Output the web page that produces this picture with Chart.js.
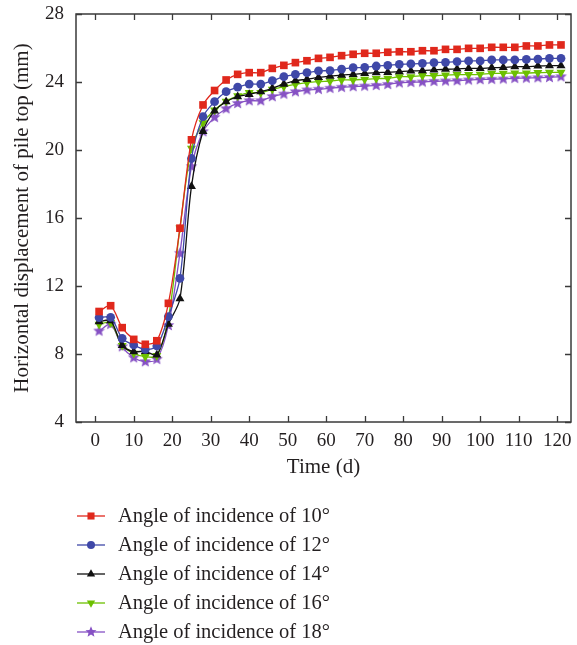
<!DOCTYPE html>
<html>
<head>
<meta charset="utf-8">
<script src="https://cdn.jsdelivr.net/npm/chart.js@4.4.1/dist/chart.umd.min.js"></script>
<style>
  html, body { margin: 0; padding: 0; background: #fff; }
  #wrap { width: 577px; height: 645px; }
</style>
</head>
<body>
<div id="wrap"><canvas id="myChart" width="577" height="645"></canvas></div>
<script>
// time (d)
const days = [1,4,7,10,13,16,19,22,25,28,31,34,37,40,43,46,49,52,55,58,61,64,67,70,73,76,79,82,85,88,91,94,97,100,103,106,109,112,115,118,121];

// horizontal displacement of pile top (mm)
const angle10 = [10.5,10.84,9.55,8.86,8.57,8.78,10.98,15.4,20.6,22.65,23.5,24.12,24.45,24.55,24.55,24.8,24.98,25.14,25.25,25.39,25.45,25.55,25.63,25.69,25.69,25.75,25.78,25.78,25.84,25.84,25.92,25.92,25.98,25.98,26.04,26.04,26.04,26.12,26.12,26.18,26.18];
const angle12 = [10.14,10.16,8.92,8.53,8.27,8.47,10.2,12.45,19.5,21.96,22.84,23.43,23.7,23.88,23.88,24.08,24.31,24.45,24.55,24.65,24.67,24.76,24.84,24.86,24.94,24.98,25.04,25.06,25.1,25.14,25.16,25.2,25.24,25.24,25.3,25.3,25.3,25.33,25.35,25.39,25.39];
const angle14 = [9.9,9.96,8.5,8.14,8.16,7.95,9.75,11.25,17.86,21.1,22.3,22.84,23.14,23.27,23.43,23.63,23.88,24.08,24.16,24.27,24.35,24.41,24.45,24.5,24.55,24.57,24.61,24.65,24.67,24.71,24.75,24.77,24.8,24.8,24.84,24.86,24.9,24.9,24.94,24.96,24.96];
const angle16 = [9.75,9.84,8.5,8.04,7.84,7.9,10.1,15.4,20.1,21.6,22.35,22.86,23.18,23.37,23.37,23.57,23.73,23.86,23.96,24.02,24.06,24.12,24.12,24.16,24.2,24.22,24.31,24.31,24.37,24.37,24.41,24.43,24.43,24.45,24.51,24.51,24.53,24.53,24.55,24.57,24.57];
const angle18 = [9.35,9.75,8.43,7.78,7.55,7.69,9.68,13.92,19.02,21.08,21.92,22.43,22.74,22.9,22.9,23.14,23.29,23.43,23.53,23.57,23.63,23.69,23.73,23.76,23.8,23.86,23.95,23.98,24.0,24.04,24.06,24.08,24.12,24.14,24.16,24.18,24.22,24.23,24.25,24.27,24.31];

const seriesLabels = ["Angle of incidence of 10°","Angle of incidence of 12°","Angle of incidence of 14°","Angle of incidence of 16°","Angle of incidence of 18°"];
const xTicks = [0,10,20,30,40,50,60,70,80,90,100,110,120];
const yTicks = [4,8,12,16,20,24,28];

const FONT = "'Liberation Serif', 'DejaVu Serif', serif";
const TXT = '#231f20';

function makeStar(r, color) {
  const c = document.createElement('canvas');
  c.width = c.height = Math.ceil(2 * r + 2);
  const g = c.getContext('2d');
  const cx = c.width / 2, cy = c.height / 2;
  g.beginPath();
  for (let i = 0; i < 10; i++) {
    const rad = i % 2 === 0 ? r : r * 0.45;
    const a = -Math.PI / 2 + i * Math.PI / 5;
    g.lineTo(cx + rad * Math.cos(a), cy + rad * Math.sin(a));
  }
  g.closePath();
  g.fillStyle = color;
  g.fill();
  return c;
}

const colors = ['#e0281c', '#3f48a8', '#111111', '#6cc000', '#8651c4'];
const styles = [
  {pointStyle: 'rect', pointRadius: 5.4, rotation: 0},
  {pointStyle: 'circle', pointRadius: 4.4, rotation: 0},
  {pointStyle: 'triangle', pointRadius: 5.2, rotation: 0},
  {pointStyle: 'triangle', pointRadius: 5.2, rotation: 180},
  {pointStyle: makeStar(6.2, colors[4]), pointRadius: 6, rotation: 0}
];
const legendStyles = [
  {pointStyle: 'rect', pointRadius: 5, rotation: 0},
  {pointStyle: 'circle', pointRadius: 4, rotation: 0},
  {pointStyle: 'triangle', pointRadius: 4.8, rotation: 0},
  {pointStyle: 'triangle', pointRadius: 4.8, rotation: 180},
  {pointStyle: makeStar(5.8, colors[4]), pointRadius: 5, rotation: 0}
];

const allSeries = [angle10, angle12, angle14, angle16, angle18];
const datasets = allSeries.map((vals, i) => ({
  label: seriesLabels[i],
  data: days.map((d, j) => ({x: d, y: vals[j]})),
  borderColor: colors[i],
  backgroundColor: colors[i],
  borderWidth: 1.3,
  pointStyle: styles[i].pointStyle,
  pointRadius: styles[i].pointRadius,
  pointRotation: styles[i].rotation,
  pointBorderWidth: 0,
  tension: 0.3,
  fill: false
}));

// frame, inward ticks and the legend below
const framePlugin = {
  id: 'frame',
  afterDraw(chart) {
    const ctx = chart.ctx;
    const a = chart.chartArea;
    const xs = chart.scales.x, ys = chart.scales.y;
    ctx.save();
    ctx.strokeStyle = '#3a3a3a';
    ctx.lineWidth = 1.5;
    ctx.strokeRect(a.left, a.top, a.right - a.left, a.bottom - a.top);
    ctx.lineWidth = 1.3;
    const tl = 6;
    ctx.beginPath();
    xTicks.forEach(v => {
      const px = Math.round(xs.getPixelForValue(v)) + 0.5;
      ctx.moveTo(px, a.bottom); ctx.lineTo(px, a.bottom - tl);
      ctx.moveTo(px, a.top); ctx.lineTo(px, a.top + tl);
    });
    yTicks.forEach(v => {
      const py = Math.round(ys.getPixelForValue(v)) + 0.5;
      ctx.moveTo(a.left, py); ctx.lineTo(a.left + tl, py);
      ctx.moveTo(a.right, py); ctx.lineTo(a.right - tl, py);
    });
    ctx.stroke();

    // legend
    ctx.font = '20.5px ' + FONT;
    ctx.textBaseline = 'middle';
    ctx.textAlign = 'left';
    chart.data.datasets.forEach((ds, i) => {
      const y = 516 + i * 29;
      ctx.strokeStyle = ds.borderColor;
      ctx.lineWidth = 1.3;
      ctx.beginPath();
      ctx.moveTo(77, y); ctx.lineTo(105, y);
      ctx.stroke();
      ctx.fillStyle = ds.backgroundColor;
      const ls = legendStyles[i];
      Chart.helpers.drawPoint(ctx, {pointStyle: ls.pointStyle, radius: ls.pointRadius, rotation: ls.rotation, borderWidth: 0}, 91, y);
      ctx.fillStyle = TXT;
      ctx.fillText(ds.label, 118, y + 1);
    });
    ctx.restore();
  }
};

const config = {
  type: 'line',
  data: {datasets: datasets},
  options: {
    responsive: false,
    animation: false,
    layout: {padding: {top: 14, right: 1, left: 0, bottom: 163}},
    plugins: {
      legend: {display: false},
      tooltip: {enabled: false}
    },
    scales: {
      x: {
        type: 'linear',
        min: -5,
        max: 123.6,
        afterBuildTicks: s => { s.ticks = xTicks.map(v => ({value: v})); },
        afterFit: s => { s.height = 60; s.paddingLeft = 0; s.paddingRight = 0; },
        grid: {display: false, drawTicks: false},
        border: {display: false},
        ticks: {color: TXT, font: {family: FONT, size: 19}, padding: 8, maxRotation: 0, autoSkip: false},
        title: {display: true, text: 'Time (d)', color: TXT, font: {family: FONT, size: 21}, padding: {top: 0, bottom: 2}}
      },
      y: {
        min: 4,
        max: 28,
        afterBuildTicks: s => { s.ticks = yTicks.map(v => ({value: v})); },
        afterFit: s => { s.width = 76; s.paddingTop = 0; s.paddingBottom = 0; },
        grid: {display: false, drawTicks: false},
        border: {display: false},
        ticks: {color: TXT, font: {family: FONT, size: 19}, padding: 12},
        title: {display: true, text: 'Horizontal displacement of pile top (mm)', color: TXT, font: {family: FONT, size: 21}, padding: {top: 10, bottom: 0}}
      }
    }
  },
  plugins: [framePlugin]
};

const myChart = new Chart(document.getElementById('myChart'), config);
</script>
</body>
</html>
